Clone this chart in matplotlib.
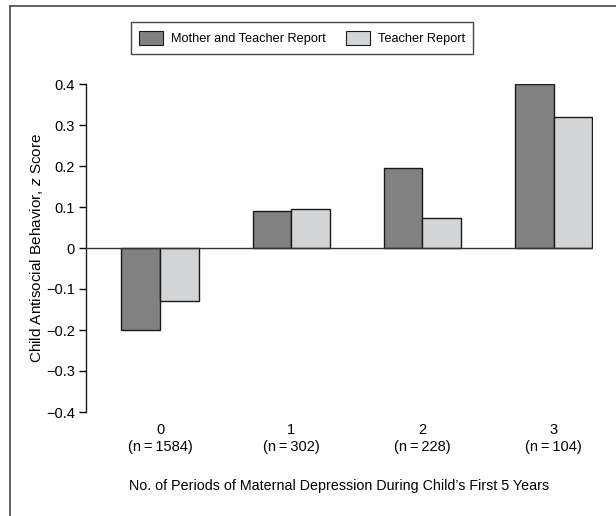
import numpy as np
import matplotlib
matplotlib.use('Agg')
import matplotlib.pyplot as plt
from matplotlib.lines import Line2D
from matplotlib.patches import Patch

plt.rcParams['font.family'] = ['Liberation Sans', 'DejaVu Sans']
plt.rcParams['mathtext.fontset'] = 'custom'
plt.rcParams['mathtext.it'] = 'Liberation Sans:italic'
plt.rcParams['mathtext.rm'] = 'Liberation Sans'

# data
periods = ['0', '1', '2', '3']
n_counts = [1584, 302, 228, 104]
mother_teacher = [-0.20, 0.09, 0.195, 0.40]
teacher_only = [-0.13, 0.095, 0.073, 0.32]

dark = '#818181'
light = '#d3d4d5'

fig = plt.figure(figsize=(6.16, 5.16), dpi=100)
ax = fig.add_axes([86/616, 1 - 412/516, (593 - 86)/616, (412 - 84)/516])

x = np.arange(len(periods))
w = 0.295
ax.bar(x - w/2, mother_teacher, w, color=dark, edgecolor='#1a1a1a', linewidth=1.0, zorder=2)
ax.bar(x + w/2, teacher_only, w, color=light, edgecolor='#1a1a1a', linewidth=1.0, zorder=2)
ax.axhline(0, color='#333333', linewidth=1.0, zorder=3)

ax.set_xlim(-0.565, 3.30)
ax.set_ylim(-0.4, 0.4)
ax.set_yticks(np.arange(-0.4, 0.41, 0.1))
ax.set_yticklabels(['\u22120.4', '\u22120.3', '\u22120.2', '\u22120.1', '0',
                    '0.1', '0.2', '0.3', '0.4'])
ax.set_xticks(x)
ax.set_xticklabels(['%s\n(n\u2009=\u2009%d)' % (p, n) for p, n in zip(periods, n_counts)],
                   linespacing=1.25)
ax.tick_params(axis='x', length=0, pad=8, labelsize=10.5)
ax.tick_params(axis='y', length=5, width=1.0, direction='out', pad=3, labelsize=10.5)
for s in ['top', 'right', 'bottom']:
    ax.spines[s].set_visible(False)
ax.spines['left'].set_linewidth(1.0)
ax.spines['left'].set_color('#1a1a1a')

ax.set_ylabel('Child Antisocial Behavior, $z$ Score', fontsize=11, labelpad=1)
ax.set_xlabel('No. of Periods of Maternal Depression During Child\u2019s First 5 Years',
              fontsize=10.3, labelpad=18)

handles = [Patch(facecolor=dark, edgecolor='#1a1a1a', linewidth=0.8),
           Patch(facecolor=light, edgecolor='#1a1a1a', linewidth=0.8)]
leg = fig.legend(handles, ['Mother and Teacher Report', 'Teacher Report'],
                 loc='center', bbox_to_anchor=(302/616, 1 - 38/516), ncol=2,
                 fontsize=9.2, frameon=True, fancybox=False, edgecolor='#1a1a1a',
                 handlelength=1.9, handleheight=1.35, columnspacing=1.6,
                 borderpad=0.65, handletextpad=0.6)
leg.get_frame().set_linewidth(1.0)

# outer frame (left and top only)
fig.add_artist(Line2D([10/616, 10/616], [0, 1 - 6/516], transform=fig.transFigure,
                      color='#555555', linewidth=1.3))
fig.add_artist(Line2D([10/616, 1], [1 - 6/516, 1 - 6/516], transform=fig.transFigure,
                      color='#555555', linewidth=1.3))

fig.savefig('out.png', dpi=100)
